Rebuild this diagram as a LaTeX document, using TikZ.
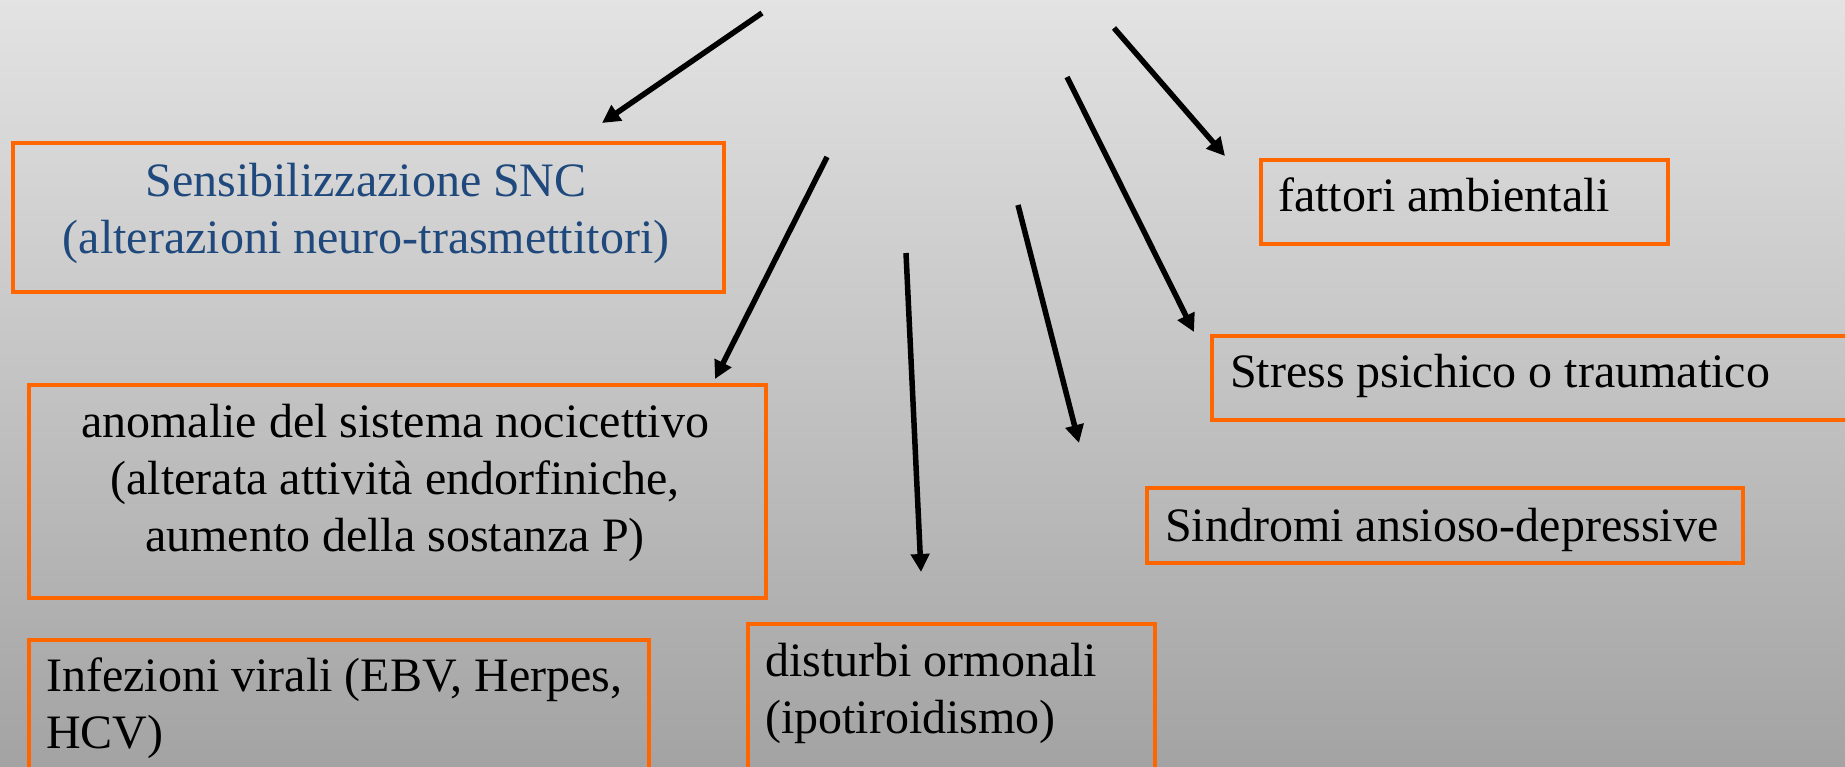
\documentclass[tikz,border=0pt]{standalone}
\usepackage{fontspec}
\setmainfont{Liberation Serif}
\usetikzlibrary{arrows.meta}

\definecolor{boxorange}{RGB}{255,102,0}
\definecolor{sncblue}{RGB}{31,73,125}
\definecolor{bgtop}{RGB}{227,227,227}
\definecolor{bgbottom}{RGB}{163,163,163}

\begin{document}
\begin{tikzpicture}[
            x=1pt, y=-1pt,
            box/.style={draw=boxorange, line width=4pt, anchor=north west, inner sep=0pt},
            txt/.style={inner sep=0pt, font=\fontsize{48}{57}\selectfont},
            arr/.style={line width=5.5pt, -{Triangle[length=18pt, width=18pt]}},
        ]
        \useasboundingbox (0,0) rectangle (1845,767);
        \clip (0,0) rectangle (1845,767);
        \shade[top color=bgtop, bottom color=bgbottom] (0,0) rectangle (1845,767);

        \node[box, minimum width=711pt, minimum height=149pt] (snc) at (11,141) {};
        \node[box, minimum width=737pt, minimum height=213pt] (anomalie) at (27,383) {};
        \node[box, minimum width=620pt, minimum height=200pt] (infezioni) at (27,638) {};
        \node[box, minimum width=407pt, minimum height=200pt] (disturbi) at (746,622) {};
        \node[box, minimum width=407pt, minimum height=84pt] (fattori) at (1259,158) {};
        \node[box, minimum width=700pt, minimum height=84pt] (stress) at (1210,334) {};
        \node[box, minimum width=596pt, minimum height=75pt] (sindromi) at (1145,486) {};

        % base of a multi-line node = baseline of its last line
        \node[txt, sncblue, anchor=base, align=center] (snc-text) at (366,254) {Sensibilizzazione SNC\\(alterazioni neuro-trasmettitori)};
        \node[txt, anchor=base, align=center] (anomalie-text) at (395,551) {anomalie del sistema nocicettivo\\(alterata attività endorfiniche,\\aumento della sostanza P)};
        \node[txt, anchor=base west, align=left] (infezioni-text) at (46,748) {Infezioni virali (EBV, Herpes,\\HCV)};
        \node[txt, anchor=base west, align=left] (disturbi-text) at (765,733) {disturbi ormonali\\(ipotiroidismo)};
        \node[txt, anchor=base west] (fattori-text) at (1278,212) {fattori ambientali};
        \node[txt, anchor=base west] (stress-text) at (1230,388) {Stress psichico o traumatico};
        \node[txt, anchor=base west] (sindromi-text) at (1165,541) {Sindromi ansioso-depressive};

        \coordinate (from-snc) at (762,13);
        \coordinate (to-snc) at (602,123);
        \coordinate (from-anomalie) at (827,157);
        \coordinate (to-anomalie) at (715,379);
        \coordinate (from-disturbi) at (906,253);
        \coordinate (to-disturbi) at (921,572);
        \coordinate (from-sindromi) at (1018,205);
        \coordinate (to-sindromi) at (1079,443);
        \coordinate (from-stress) at (1067,77);
        \coordinate (to-stress) at (1194,332);
        \coordinate (from-fattori) at (1114,28);
        \coordinate (to-fattori) at (1225,156);

        \draw[arr] (from-snc) -- (to-snc);
        \draw[arr] (from-anomalie) -- (to-anomalie);
        \draw[arr] (from-disturbi) -- (to-disturbi);
        \draw[arr] (from-sindromi) -- (to-sindromi);
        \draw[arr] (from-stress) -- (to-stress);
        \draw[arr] (from-fattori) -- (to-fattori);
    \end{tikzpicture}
\end{document}
